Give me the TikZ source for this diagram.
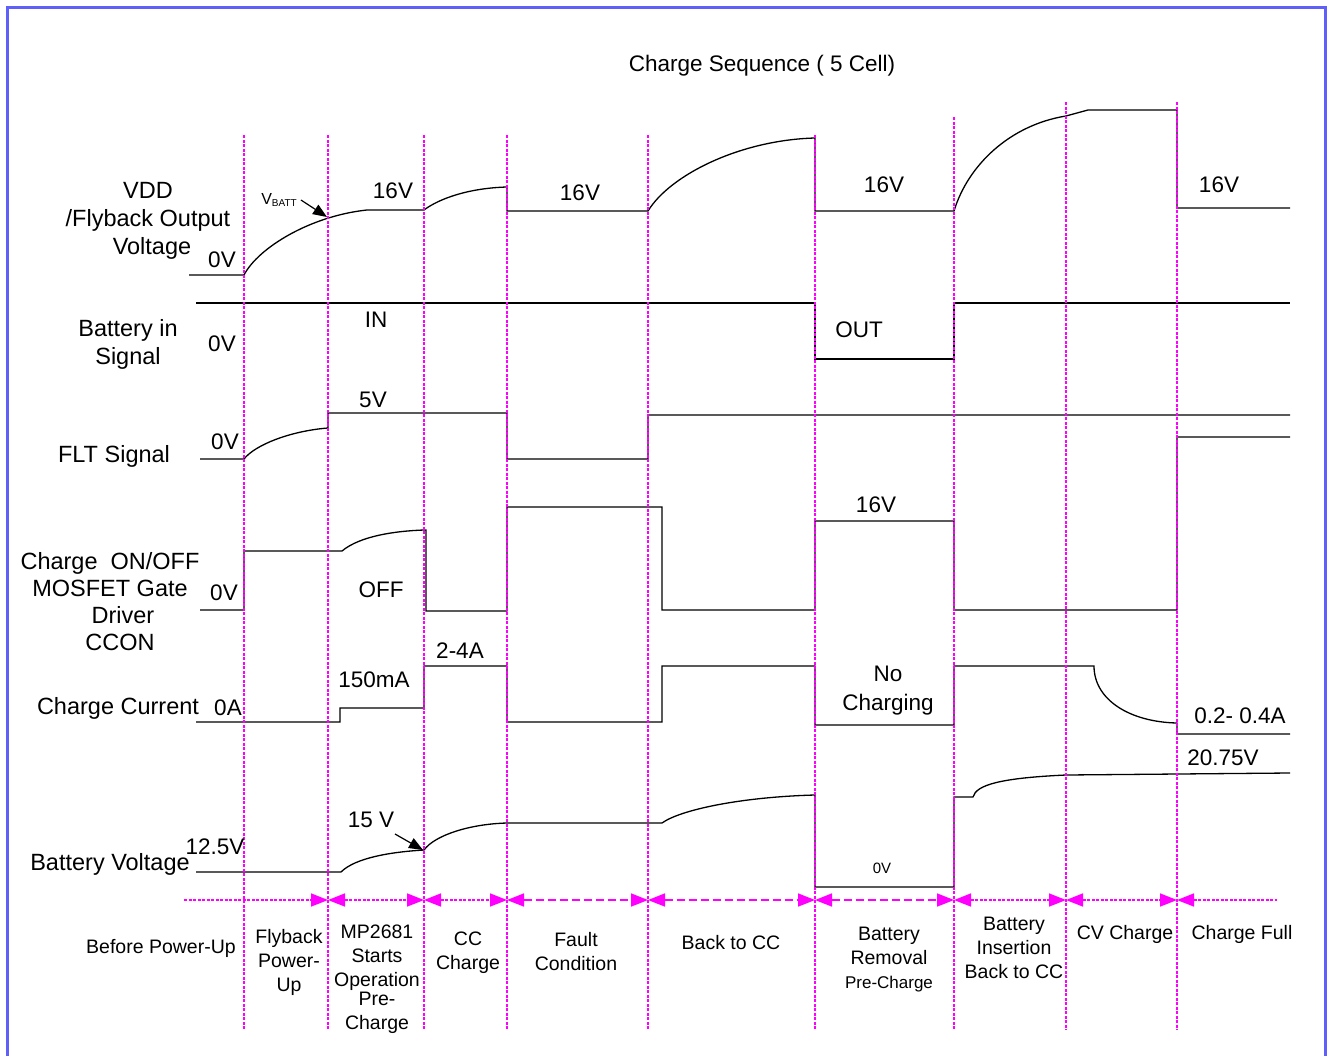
\documentclass[tikz,border=0pt]{standalone}
\usepackage{fontspec}
\setmainfont{Liberation Sans}
\usetikzlibrary{positioning, arrows.meta}

\definecolor{frameblue}{RGB}{95,95,250}
\definecolor{marker}{RGB}{255,0,255}

\begin{document}
\begin{tikzpicture}[
    x=1pt, y=-1pt,
    wave/.style={draw=black, line width=1.3pt},
    divider/.style={draw=marker, line width=1.6pt, dash pattern=on 3pt off 1.5pt},
    phase/.style={draw=marker, line width=1.6pt, >={Triangle[length=17pt,width=13pt]}},
    finedash/.style={dash pattern=on 3pt off 1.5pt},
    longdash/.style={dash pattern=on 8pt off 4pt},
    sig/.style={font=\fontsize{23.5}{28}\selectfont, align=center, inner sep=0pt},
    val/.style={font=\fontsize{22.5}{26}\selectfont, inner sep=0pt},
    stage/.style={font=\fontsize{19.5}{24}\selectfont, align=center, inner sep=0pt},
    pointer/.style={draw=black, line width=1.2pt, -{Triangle[length=14pt,width=11pt]}}
]
\useasboundingbox (0,0) rectangle (1328,1055);

% Frame
\draw[frameblue, line width=3pt] (7,1070) -- (7,7) -- (1325,7) -- (1325,1070);

% Title
\node[val] (title) at (762,66) {Charge Sequence ( 5 Cell)};

% Signal names
\node[sig] (vddname) at (148,221) {VDD\\/Flyback Output\\\hspace*{8pt}Voltage};
\node[sig] (batinname) at (128,344) {Battery in\\Signal};
\node[sig] (fltname) at (114,456) {FLT Signal};
\node[sig, font=\fontsize{23.5}{27}\selectfont] (cconname) at (110,602) {Charge\ \ ON/OFF\\MOSFET Gate\\\hspace*{26pt}Driver\\\hspace*{20pt}CCON};
\node[sig] (currname) at (118,708) {Charge Current};
\node[sig] (vbatname) at (110,864) {Battery Voltage};

% VDD / Flyback output
\draw[wave] (189,275) -- (244,275) .. controls (258,248) and (310,216) .. (367,210) -- (424,210)
    .. controls (440,198) and (470,188) .. (507,187) -- (507,211) -- (648,211)
    .. controls (670,175) and (740,140) .. (815,138) -- (815,211) -- (954,211)
    .. controls (968,165) and (1010,125) .. (1066,116) -- (1088,110) -- (1177,110) -- (1177,208) -- (1290,208);

% Battery in signal
\draw[wave] (196,303) -- (815,303) -- (815,359) -- (954,359) -- (954,303) -- (1290,303);

% FLT signal
\draw[wave] (200,459) -- (244,459) .. controls (255,445) and (290,431) .. (328,428) -- (328,413) -- (507,413)
    -- (507,459) -- (648,459) -- (648,415) -- (1290,415);

% CCON
\draw[wave] (200,610) -- (244,610) -- (244,551) -- (342,551) .. controls (360,536) and (395,531) .. (424,530)
    -- (426,530) -- (426,611) -- (507,611) -- (507,507) -- (662,507) -- (662,610) -- (815,610) -- (815,521)
    -- (954,521) -- (954,610) -- (1177,610) -- (1177,437) -- (1290,437);

% Charge current
\draw[wave] (196,722) -- (340,722) -- (340,708) -- (424,708) -- (424,666) -- (507,666) -- (507,722) -- (662,722)
    -- (662,666) -- (815,666) -- (815,725) -- (954,725) -- (954,666) -- (1094,666)
    .. controls (1094,700) and (1130,722) .. (1177,723) -- (1177,734) -- (1290,734);

% Battery voltage
\draw[wave] (196,872) -- (341,872) .. controls (355,858) and (390,852) .. (424,850)
    .. controls (435,835) and (470,824) .. (507,823) -- (662,823)
    .. controls (680,810) and (740,797) .. (815,795) -- (815,887) -- (954,887) -- (954,797) -- (973,797)
    .. controls (976,785) and (1000,778) .. (1066,775) -- (1290,773);

% Phase dividers
\foreach \x/\top [count=\i] in {244/135, 328/135, 424/135, 507/135, 648/135, 815/135, 954/117, 1066/102, 1177/102} {
    \draw[divider] (\x,\top) -- (\x,1030);
    \coordinate (m\i) at (\x,900);
}
\coordinate (pstart) at (184,900);
\coordinate (pend) at (1277,900);

% Phase arrows
\draw[phase, finedash, ->] (pstart) -- (m2);
\draw[phase, finedash, <->] (m2) -- (m3);
\draw[phase, finedash, <->] (m3) -- (m4);
\draw[phase, longdash, <->] (m4) -- (m5);
\draw[phase, longdash, <->] (m5) -- (m6);
\draw[phase, longdash, <->] (m6) -- (m7);
\draw[phase, finedash, <->] (m7) -- (m8);
\draw[phase, finedash, <->] (m8) -- (m9);
\draw[phase, finedash, <-] (m9) -- (pend);

% Level labels
\node[val] (vdd0) at (222,260) {0V};
\node[val] (vddhi1) at (393,191) {16V};
\node[val] (vddhi2) at (580,193) {16V};
\node[val] (vddhi3) at (884,185) {16V};
\node[val] (vddhi4) at (1219,185) {16V};
\node[inner sep=0pt] (vbatt) at (279,200) {\fontsize{16}{18}\selectfont V\raisebox{-2pt}{\fontsize{10}{12}\selectfont BATT}};
\coordinate (vbattpt) at (327,217);
\draw[pointer] ([xshift=4pt]vbatt.east) -- (vbattpt);

\node[val] (bat0) at (222,344) {0V};
\node[val] (batin) at (376,320) {IN};
\node[val] (batout) at (859,330) {OUT};

\node[val] (flt0) at (225,442) {0V};
\node[val] (flt5) at (373,400) {5V};

\node[val] (ccon0) at (224,593) {0V};
\node[val] (cconoff) at (381,590) {OFF};
\node[val] (ccon16) at (876,505) {16V};

\node[val] (curr0) at (228,708) {0A};
\node[val] (curr150) at (374,680) {150mA};
\node[val] (curr24) at (460,651) {2-4A};
\node[val, align=center, font=\fontsize{22.5}{29}\selectfont] (currno) at (888,691) {No\\Charging};
\node[val] (currend) at (1240,716) {0.2- 0.4A};

\node[val] (vbat125) at (215,847) {12.5V};
\node[val] (vbat15) at (371,820) {15 V};
\coordinate (vbat15pt) at (423,850);
\draw[pointer] (395,834) -- (vbat15pt);
\node[inner sep=0pt, font=\fontsize{15}{18}\selectfont] (vbat0) at (882,868) {0V};
\node[val] (vbatfull) at (1223,758) {20.75V};

% Phase names
\node[stage] (ph1) at (161,948) {Before Power-Up};
\node[stage] (ph2) at (289,962) {Flyback\\Power-\\Up};
\node[stage] (ph3) at (377,979) {MP2681\\Starts\\Operation\\[-5pt]Pre-\\Charge};
\node[stage] (ph4) at (468,953) {CC\\Charge};
\node[stage] (ph5) at (576,952) {Fault\\Condition};
\node[stage] (ph6) at (731,943) {Back to CC};
\node[stage] (ph7) at (889,960) {Battery\\Removal\\{\fontsize{17}{20}\selectfont Pre-Charge}};
\node[stage] (ph8) at (1014,948) {Battery\\Insertion\\Back to CC};
\node[stage] (ph9) at (1125,934) {CV Charge};
\node[stage] (ph10) at (1242,934) {Charge Full};

\end{tikzpicture}
\end{document}
